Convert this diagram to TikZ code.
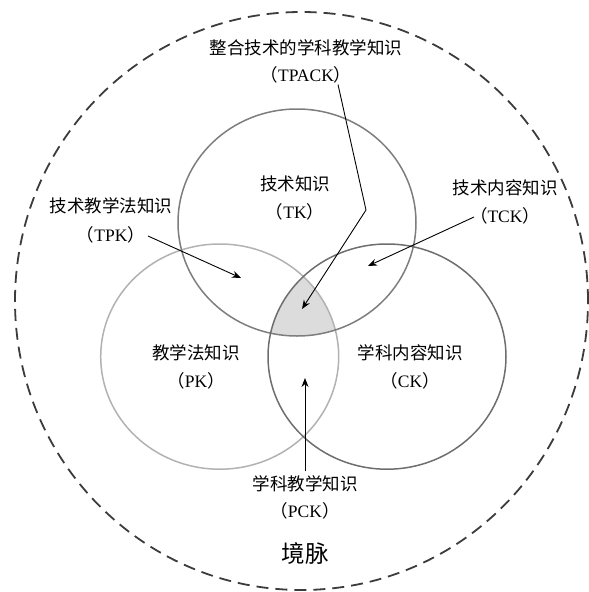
\documentclass[tikz,border=0pt]{standalone}
\usepackage{fontspec}
\setmainfont{Liberation Serif}
\newfontfamily\cjk{Noto Sans CJK SC}
\usetikzlibrary{arrows.meta}
\newcommand\abbr[1]{{\cjk （}#1{\cjk ）}}
\definecolor{tkc}{RGB}{125,125,125}
\definecolor{pkc}{RGB}{178,178,178}
\definecolor{ckc}{RGB}{110,110,110}
\definecolor{tpackfill}{RGB}{220,220,220}
\definecolor{ctx}{RGB}{60,60,60}
\tikzset{
  lbl/.style={inner sep=0pt, font=\fontsize{17.5}{20}\selectfont\cjk},
  ab/.style={inner sep=0pt, font=\fontsize{17.5}{20}\selectfont},
  ring/.style={line width=1.5pt},
  pointer/.style={line width=0.9pt, -{Stealth[length=9pt,width=7pt]}},
}
\begin{document}
\begin{tikzpicture}[x=1pt,y=-1pt]
\useasboundingbox (0,0) rectangle (589,592);
% shaded TPACK region
\begin{scope}
  \clip (297,222.5) ellipse [x radius=119pt, y radius=113.5pt];
  \clip (219.7,356.6) ellipse [x radius=119pt, y radius=112.6pt];
  \fill[tpackfill] (387,356.6) ellipse [x radius=119pt, y radius=112.6pt];
\end{scope}
% context
\draw[ctx, line width=1.8pt, dash pattern=on 12pt off 7pt] (301.5,301) ellipse [x radius=286.5pt, y radius=289pt];
% three circles
\draw[ring, pkc] (219.7,356.6) ellipse [x radius=119pt, y radius=112.6pt];
\draw[ring, tkc] (297,222.5) ellipse [x radius=119pt, y radius=113.5pt];
\draw[ring, ckc] (387,356.6) ellipse [x radius=119pt, y radius=112.6pt];
% labels
\node[lbl] (tpack) at (306,48) {整合技术的学科教学知识};
\node[ab] (tpackab) at (306,75) {\abbr{TPACK}};
\node[lbl] (tk) at (295,184) {技术知识};
\node[ab] (tkab) at (295,212) {\abbr{TK}};
\node[lbl] (tpk) at (111,206) {技术教学法知识};
\node[ab] (tpkab) at (111,235) {\abbr{TPK}};
\node[lbl] (tck) at (505,188) {技术内容知识};
\node[ab] (tckab) at (505,216) {\abbr{TCK}};
\node[lbl] (pk) at (196,353) {教学法知识};
\node[ab] (pkab) at (196,381) {\abbr{PK}};
\node[lbl] (ck) at (410,353) {学科内容知识};
\node[ab] (ckab) at (410,381) {\abbr{CK}};
\node[lbl] (pck) at (305,484) {学科教学知识};
\node[ab] (pckab) at (305,511) {\abbr{PCK}};
\node[inner sep=0pt, font=\fontsize{23.5}{26}\selectfont\cjk] (context) at (305,554) {境脉};
% pointer coordinates
\coordinate (tpackS) at (338,84.5);
\coordinate (tpackB) at (366,210);
\coordinate (tpackT) at (302,309);
\coordinate (tpkS) at (148,236);
\coordinate (tpkT) at (241,278);
\coordinate (tckS) at (474,217);
\coordinate (tckT) at (368,266);
\coordinate (pckS) at (305,471);
\coordinate (pckT) at (305,378);
% pointers
\draw[pointer] (tpackS) -- (tpackB) -- (tpackT);
\draw[pointer] (tpkS) -- (tpkT);
\draw[pointer] (tckS) -- (tckT);
\draw[pointer] (pckS) -- (pckT);
\end{tikzpicture}
\end{document}
